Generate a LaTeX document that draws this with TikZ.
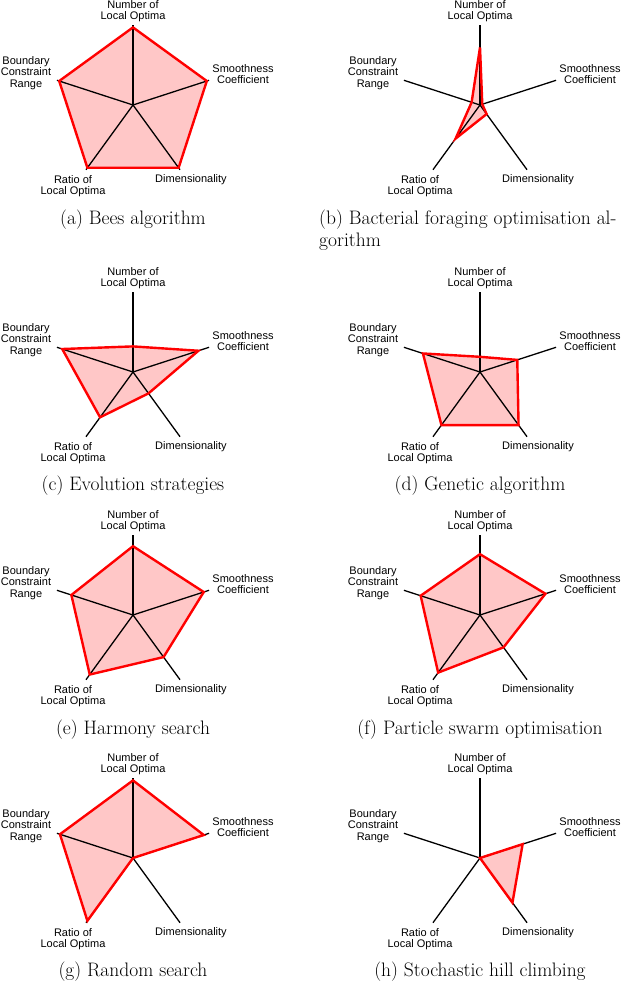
\documentclass[tikz,border=0pt]{standalone}
\usepackage{fontspec}
\newfontfamily\lab{Liberation Sans}
\begin{document}
\begin{tikzpicture}[x=1pt,y=1pt,
  axisline/.style={black,line width=1.3pt},
  poly/.style={draw=red,line width=2.4pt,line join=miter},
  lbl/.style={font=\lab\fontsize{11}{11.5}\selectfont,align=center,inner sep=0pt},
  captxt/.style={font=\fontsize{19.5}{22}\selectfont,inner sep=0pt}]
\useasboundingbox (0,0) rectangle (640,-983);
\newcommand\radar[9]{%
  \begin{scope}[shift={(#1,-#2)}]
  \coordinate (#9c) at (0,0);
  \foreach \a/\n in {90/t,18/s,-54/d,-126/r,162/b} \coordinate (#9\n) at (\a:80);
  \fill[red!22] (90:{80*#3}) -- (18:{80*#4}) -- (-54:{80*#5}) -- (-126:{80*#6}) -- (162:{80*#7}) -- cycle;
  \foreach \n in {t,s,d,r,b} \draw[axisline] (#9c) -- (#9\n);
  \draw[poly] (90:{80*#3}) -- (18:{80*#4}) -- (-54:{80*#5}) -- (-126:{80*#6}) -- (162:{80*#7}) -- cycle;
  \node[lbl] (#9lt) at (0,94) {Number of\\Local Optima};
  \node[lbl] (#9ls) at (110,31) {Smoothness\\Coefficient};
  \node[lbl] (#9ld) at (58,-75) {Dimensionality};
  \node[lbl] (#9lr) at (-60,-81) {Ratio of\\Local Optima};
  \node[lbl] (#9lb) at (-107,32) {Boundary\\Constraint\\Range};
  \end{scope}}
\radar{133}{105}{0.97}{0.97}{0.97}{0.97}{0.97}{}{A}
\node[captxt] (capA) at (133,-220) {(a) Bees algorithm};
\radar{480}{105}{0.72}{0.03}{0.14}{0.52}{0.11}{}{B}
\node[captxt,anchor=west] (capB) at (319,-220) {(b) Bacterial foraging optimisation al-};
\node[captxt,anchor=west] (capB2) at (319,-242) {gorithm};
\radar{133}{372}{0.32}{0.86}{0.33}{0.70}{0.93}{}{C}
\node[captxt] (capC) at (133,-486) {(c) Evolution strategies};
\radar{480}{372}{0.19}{0.49}{0.82}{0.82}{0.75}{}{D}
\node[captxt] (capD) at (480,-486) {(d) Genetic algorithm};
\radar{133}{615}{0.86}{0.93}{0.65}{0.92}{0.81}{}{E}
\node[captxt] (capE) at (133,-730) {(e) Harmony search};
\radar{480}{615}{0.76}{0.86}{0.50}{0.89}{0.78}{}{F}
\node[captxt] (capF) at (480,-730) {(f) Particle swarm optimisation};
\radar{133}{858}{0.97}{0.93}{0.0}{0.97}{0.96}{}{G}
\node[captxt] (capG) at (133,-972) {(g) Random search};
\radar{480}{858}{0.0}{0.56}{0.69}{0.0}{0.0}{}{H}
\node[captxt] (capH) at (480,-972) {(h) Stochastic hill climbing};
\end{tikzpicture}
\end{document}
